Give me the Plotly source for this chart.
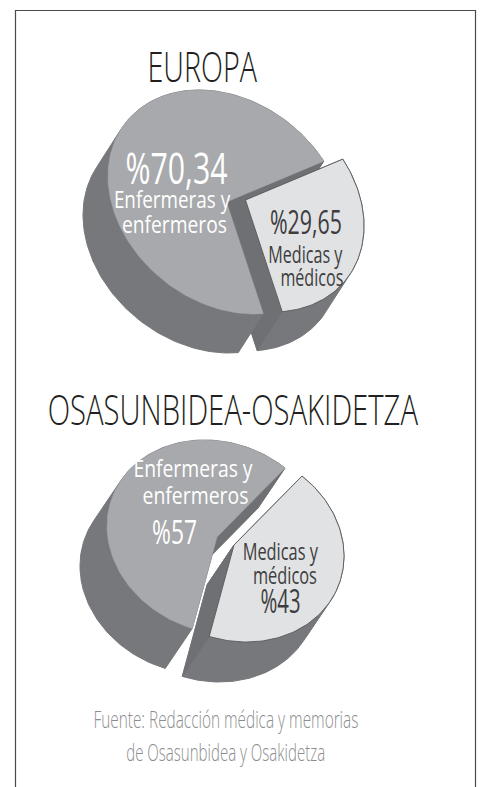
import json
import math
import plotly.graph_objects as go

# ---------------- data ----------------
titles = ["EUROPA", "OSASUNBIDEA-OSAKIDETZA"]
categories = [["Enfermeras y", "enfermeros"], ["Medicas y", "médicos"]]
europa_values = [70.34, 29.65]
osasun_values = [57, 43]
source_lines = ["Fuente: Redacción médica y memorias", "de Osasunbidea y Osakidetza"]

# ---------------- style / layout ----------------
W, H = 483, 787
FONT = "Open Sans, Noto Sans, DejaVu Sans Condensed, sans-serif"
FACE = ["#a7a9ac", "#e1e2e3"]
SIDE = "#77787b"
CUT = "#6f7073"
LABEL_COL = ["#ffffff", "#3d3d3f"]

# tilted-disc projection of each pie: x = cx + ax*cos(t - alpha), y = cy + ay*cos(t - beta)
# label rows: (kind, x, y, font size, target width in px)
pies = [
    dict(values=europa_values, cx=226.5, cy=202, ax=118.5, ay=112, alpha=0, beta=-76.6,
         start=34.8, depth=(-25, 39), pull=[(0, 0), (19, -2)],
         labels=[[("v", 176, 167.5, 43, 102), ("c0", 172, 198.5, 24, 117), ("c1", 174.5, 223.5, 24, 105)],
                 [("v", 306, 221.5, 32, 72), ("c0", 305.5, 253.5, 24, 75), ("c1", 311.5, 276.5, 24, 63)]]),
    dict(values=osasun_values, cx=217, cy=537, ax=110, ay=97, alpha=0, beta=-83.5,
         start=51.8, depth=(-27, 40), pull=[(0, 0), (17, 8)],
         labels=[[("c0", 193, 467.5, 24, 120), ("c1", 195, 494, 24, 106), ("v", 174.5, 531.5, 33, 45)],
                 [("c0", 280, 550, 24, 76), ("c1", 285, 574.5, 24, 64), ("v", 280, 600, 32, 40)]]),
]
title_pos = [(202, 65, 42, 110), (232.5, 408, 42, 371)]
source_pos = [(225.5, 718, 24, 265), (225.5, 751.5, 24, 199)]


def pct_text(v):
    if float(v).is_integer():
        return "%" + str(int(v))
    return "%" + f"{v:.2f}".replace(".", ",")


def hull(points):
    pts = sorted(set(points))

    def cross(o, a, b):
        return (a[0] - o[0]) * (b[1] - o[1]) - (a[1] - o[1]) * (b[0] - o[0])

    lower, upper = [], []
    for p in pts:
        while len(lower) >= 2 and cross(lower[-2], lower[-1], p) <= 0:
            lower.pop()
        lower.append(p)
    for p in reversed(pts):
        while len(upper) >= 2 and cross(upper[-2], upper[-1], p) <= 0:
            upper.pop()
        upper.append(p)
    return lower[:-1] + upper[:-1]


def poly_trace(pts, fill, line=None, lw=1.0):
    xs = [p[0] for p in pts] + [pts[0][0]]
    ys = [p[1] for p in pts] + [pts[0][1]]
    return go.Scatter(x=xs, y=ys, mode="lines", fill="toself", fillcolor=fill,
                      line=dict(color=line or fill, width=lw), hoverinfo="skip",
                      showlegend=False)


fig = go.Figure()
annotations = []
widths = []


def add_text(txt, x, y, size, color, target, weight=400):
    annotations.append(dict(x=x, y=y, xref="x", yref="y", text=txt, showarrow=False,
                            xanchor="center", yanchor="middle",
                            font=dict(family=FONT, size=size, color=color, weight=weight)))
    widths.append(target)


for pie in pies:
    vals = pie["values"]
    total = sum(vals)
    cx, cy, ax, ay = pie["cx"], pie["cy"], pie["ax"], pie["ay"]
    al, be = math.radians(pie["alpha"]), math.radians(pie["beta"])
    dx, dy = pie["depth"]
    ranges = []
    a = pie["start"]
    for v in vals:
        span = 360.0 * v / total
        ranges.append((a, a + span))
        a += span

    def vec(ang):
        r = math.radians(ang)
        return (ax * math.cos(r - al), ay * math.cos(r - be))

    def dvec(ang):
        r = math.radians(ang)
        return (-ax * math.sin(r - al), -ay * math.sin(r - be))

    def sector(a0, a1, off):
        n = max(8, int(abs(a1 - a0) / 1.5))
        c = (cx + off[0], cy + off[1])
        pts = [c]
        for k in range(n + 1):
            v = vec(a0 + (a1 - a0) * k / n)
            pts.append((c[0] + v[0], c[1] + v[1]))
        return pts

    # extrusions: small slice (back) first, then large
    for i in reversed(range(len(vals))):
        a0, a1 = ranges[i]
        off = pie["pull"][i]
        npieces = math.ceil((a1 - a0) / 90.0)
        for k in range(npieces):
            b0 = a0 + (a1 - a0) * k / npieces
            b1 = a0 + (a1 - a0) * (k + 1) / npieces
            sp = sector(b0, b1, off)
            swept = sp + [(p[0] + dx, p[1] + dy) for p in sp]
            fig.add_trace(poly_trace(hull(swept), SIDE))
        c = (cx + off[0], cy + off[1])
        for edge_ang, sign in ((a0, 1), (a1, -1)):
            e = vec(edge_ang)
            t = tuple(sign * q for q in dvec(edge_ang))
            if (e[0] * t[1] - e[1] * t[0]) * (e[0] * dy - e[1] * dx) < 0:
                p1 = (c[0] + e[0], c[1] + e[1])
                face = [c, p1, (p1[0] + dx, p1[1] + dy), (c[0] + dx, c[1] + dy)]
                fig.add_trace(poly_trace(face, CUT, lw=0.5))
    # top faces
    for i in range(len(vals)):
        a0, a1 = ranges[i]
        sp = sector(a0, a1, pie["pull"][i])
        if i == 0:
            fig.add_trace(poly_trace(sp, FACE[i], lw=0.5))
        else:
            fig.add_trace(poly_trace(sp, FACE[i], line="#58595c", lw=0.9))
    for i, rows in enumerate(pie["labels"]):
        for key, x, y, size, target in rows:
            txt = pct_text(vals[i]) if key == "v" else categories[i][int(key[1])]
            add_text(txt, x, y, size, LABEL_COL[i], target)

for t, (x, y, s, target) in zip(titles, title_pos):
    add_text(t, x, y, s, "#231f20", target, weight=300)

for t, (x, y, s, target) in zip(source_lines, source_pos):
    add_text(t, x, y, s, "#8c8d90", target, weight=300)

fig.update_layout(
    width=W, height=H, margin=dict(l=0, r=0, t=0, b=0),
    paper_bgcolor="white", plot_bgcolor="white", showlegend=False,
    xaxis=dict(range=[0, W], visible=False, fixedrange=True),
    yaxis=dict(range=[H, 0], visible=False, fixedrange=True),
    annotations=annotations,
    shapes=[dict(type="path", xref="x", yref="y",
                 path="M 15.5 787 L 15.5 10.5 L 475.5 10.5 L 475.5 787",
                 line=dict(color="#4a4a4c", width=1.2))],
)

# condense the text horizontally (the original uses a condensed typeface)
post = """
document.body.style.margin = '0';
var targets = %s;
document.querySelectorAll('g.annotation').forEach(function (g) {
  var i = +g.getAttribute('data-index');
  var t = g.querySelector('text');
  if (!t || !targets[i]) return;
  var w = t.getBBox().width;
  if (w > 0) {
    t.style.transformBox = 'fill-box';
    t.style.transformOrigin = '50%% 50%%';
    t.style.transform = 'scaleX(' + (targets[i] / w) + ')';
  }
});
""" % json.dumps(widths)

fig.write_html("out.html", post_script=post, config={"displayModeBar": False})
